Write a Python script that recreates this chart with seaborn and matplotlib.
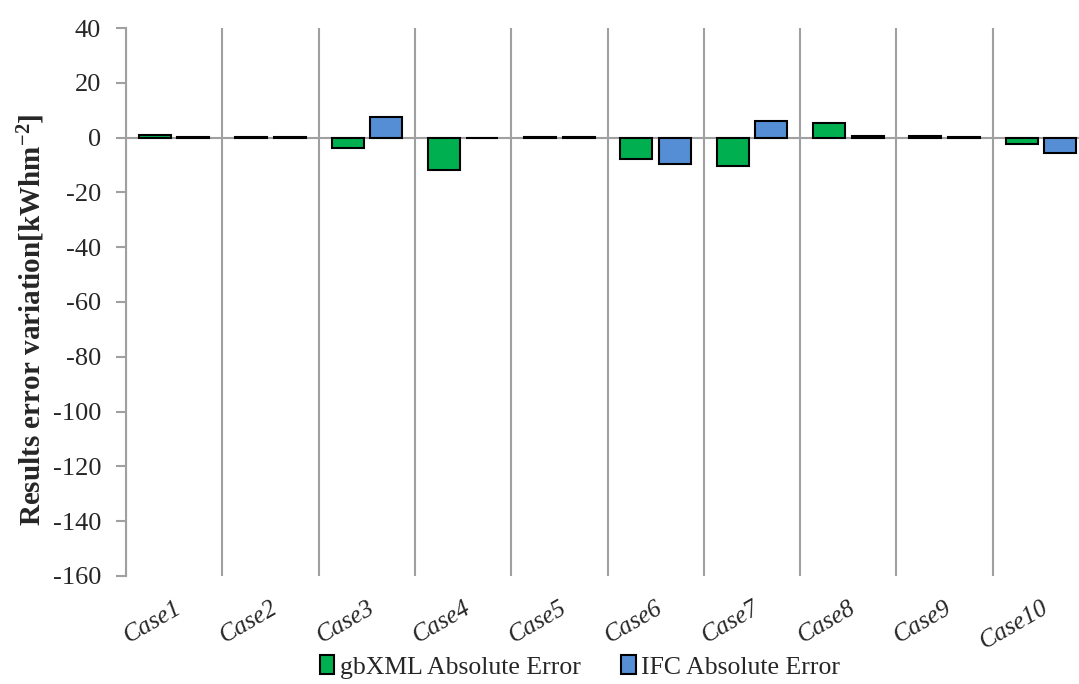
import matplotlib
matplotlib.use("Agg")
import matplotlib.pyplot as plt
import numpy as np
import pandas as pd
import seaborn as sns

cases = ["Case1", "Case2", "Case3", "Case4", "Case5",
         "Case6", "Case7", "Case8", "Case9", "Case10"]
gbxml_error = [0.8, 0.2, -3.9, -11.9, 0.1, -7.7, -10.2, 5.4, 0.7, -2.3]
ifc_error = [0.1, 0.1, 7.7, 0.0, 0.1, -9.5, 6.2, 0.5, 0.1, -5.7]
series = ["gbXML Absolute Error", "IFC Absolute Error"]
colors = ["#00B050", "#558ED5"]
y_ticks = list(range(-160, 41, 20))


def main() -> None:
    sns.set_style("white")
    plt.rcParams["font.family"] = ["Liberation Serif", "DejaVu Serif"]
    plt.rcParams["mathtext.fontset"] = "custom"
    plt.rcParams["mathtext.rm"] = "Liberation Serif:bold"
    plt.rcParams["mathtext.default"] = "rm"

    df = pd.DataFrame({
        "case": cases * 2,
        "value": gbxml_error + ifc_error,
        "series": [series[0]] * len(cases) + [series[1]] * len(cases),
    })

    fig = plt.figure(figsize=(10.79, 6.84), dpi=100)
    ax = fig.add_axes([0.1168, 0.158, 0.8925, 0.801])

    sns.barplot(data=df, x="case", y="value", hue="series", palette=colors,
                width=0.8, gap=0.17, edgecolor="black", linewidth=1.5,
                saturation=1, ax=ax, zorder=3)

    grey = "#A0A0A0"
    ax.set_ylim(-160, 40)
    ax.set_xlim(-0.5, len(cases) - 0.5)
    ax.set_yticks(y_ticks)
    ax.set_yticklabels([str(t) for t in y_ticks], fontsize=19)
    ax.tick_params(axis="y", length=7, width=1.5, color=grey, left=True, pad=11)

    ax.set_xticks(np.arange(len(cases)))
    ax.set_xticklabels(cases, rotation=30, ha="right", rotation_mode="anchor",
                       fontsize=18, style="italic")
    ax.tick_params(axis="x", length=0, pad=15)
    ax.set_xticks(np.arange(len(cases) + 1) - 0.5, minor=True)
    ax.tick_params(axis="x", which="minor", length=0)
    ax.grid(which="minor", axis="x", color=grey, lw=1.5, zorder=1)
    ax.axhline(0, color=grey, lw=1.5, zorder=2)

    for side in ["top", "right", "bottom"]:
        ax.spines[side].set_visible(False)
    ax.spines["left"].set_color(grey)
    ax.spines["left"].set_linewidth(1.5)

    ax.set_xlabel("")
    ax.set_ylabel("Results error variation[kWhm$^{-2}$]", fontsize=21,
                  fontweight="bold")
    ax.yaxis.set_label_coords(-0.082, 0.467)

    handles, labels = ax.get_legend_handles_labels()
    ax.get_legend().remove()
    fig.legend(handles, labels, loc="center", bbox_to_anchor=(580 / 1079, 17 / 684),
               ncol=2, frameon=False, fontsize=18.5, handlelength=0.55,
               handleheight=0.75, handletextpad=0.2, columnspacing=1.6,
               borderpad=0)

    fig.savefig("out.png", dpi=100)
    plt.close(fig)


if __name__ == "__main__":
    main()
